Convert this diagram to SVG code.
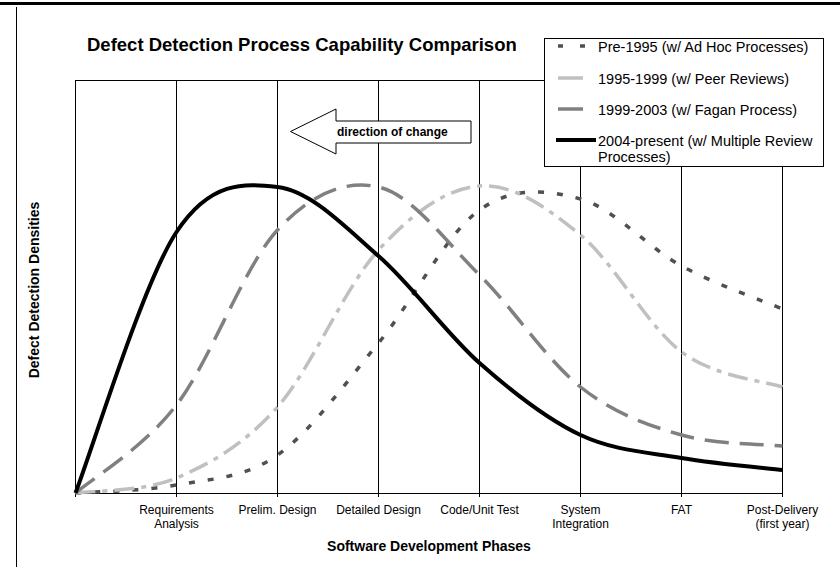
<svg xmlns="http://www.w3.org/2000/svg" width="840" height="567" viewBox="0 0 840 567">
<style>
.grid{stroke:#000;stroke-width:1;fill:none}
.lbl{font-family:"Liberation Sans",Arial,sans-serif;font-size:12px;fill:#000;text-anchor:middle}
.ttl{font-family:"Liberation Sans",Arial,sans-serif;font-weight:bold;fill:#000}
.leg{font-family:"Liberation Sans",Arial,sans-serif;font-size:14.5px;fill:#000}
.s-pre{fill:none;stroke:#505050;stroke-width:3.5;stroke-dasharray:6 13}
.s-peer{fill:none;stroke:#c0c0c0;stroke-width:3.5;stroke-dasharray:20 7 5 7}
.s-fagan{fill:none;stroke:#808080;stroke-width:3.5;stroke-dasharray:24 11}
.s-multi{fill:none;stroke:#000;stroke-width:4}
</style>
<rect x="0" y="0" width="840" height="567" fill="#fff"/>
<g id="frame">
<line x1="0" y1="3.5" x2="840" y2="3.5" stroke="#000" stroke-width="3"/>
<line x1="16.5" y1="7" x2="16.5" y2="567" stroke="#000" stroke-width="1"/>
</g>
<g id="title">
<text class="ttl" x="87" y="51" font-size="18.5">Defect Detection Process Capability Comparison</text>
</g>
<g id="grid">
<line class="grid" x1="75.5" y1="80" x2="75.5" y2="497"/>
<line class="grid" x1="176.5" y1="80" x2="176.5" y2="497"/>
<line class="grid" x1="277.5" y1="80" x2="277.5" y2="497"/>
<line class="grid" x1="378.5" y1="80" x2="378.5" y2="497"/>
<line class="grid" x1="479.5" y1="80" x2="479.5" y2="497"/>
<line class="grid" x1="580.5" y1="80" x2="580.5" y2="497"/>
<line class="grid" x1="681.5" y1="80" x2="681.5" y2="497"/>
<line class="grid" x1="782.5" y1="80" x2="782.5" y2="497"/>
<line class="grid" x1="75.5" y1="80.5" x2="782.5" y2="80.5"/>
<line class="grid" x1="75" y1="493.5" x2="783" y2="493.5"/>
</g>
<g id="curves">
<path id="pre1995" class="s-pre" d="M75.5,493 C92.3,491.7 142.8,491.3 176.5,485 C210.2,478.7 243.8,478.7 277.5,455 C311.2,431.3 344.8,383.8 378.5,343 C412.2,302.2 445.8,234 479.5,210 C513.2,186 546.8,189.7 580.5,199 C614.2,208.3 647.8,247.7 681.5,266 C715.2,284.3 765.7,301.8 782.5,309"/>
<path id="peer" class="s-peer" d="M75.5,493 C92.3,490.5 142.8,492.3 176.5,478 C210.2,463.7 243.8,445 277.5,407 C311.2,369 344.8,286.8 378.5,250 C412.2,213.2 445.8,188.5 479.5,186 C513.2,183.5 546.8,207.3 580.5,235 C614.2,262.7 647.8,326.7 681.5,352 C715.2,377.3 765.7,381.2 782.5,387"/>
<path id="fagan" class="s-fagan" d="M75.5,493 C92.3,478.3 142.8,448.8 176.5,405 C210.2,361.2 243.8,266.3 277.5,230 C311.2,193.7 344.8,179.5 378.5,187 C412.2,194.5 445.8,241.7 479.5,275 C513.2,308.3 546.8,360.3 580.5,387 C614.2,413.7 647.8,425.2 681.5,435 C715.2,444.8 765.7,444.2 782.5,446"/>
<path id="multi" class="s-multi" d="M75.5,493 C92.3,449.5 142.8,283 176.5,232 C210.2,181 243.8,183 277.5,187 C311.2,191 344.8,226.7 378.5,256 C412.2,285.3 445.8,333.2 479.5,363 C513.2,392.8 546.8,419.2 580.5,435 C614.2,450.8 647.8,452.2 681.5,458 C715.2,463.8 765.7,468 782.5,470"/>
</g>
<g id="arrow">
<polygon points="290.5,131.5 336,109 336,121 471,121 471,143 336,143 336,154" fill="#fff" stroke="#000" stroke-width="1"/>
<text class="ttl" x="337" y="136" font-size="12">direction of change</text>
</g>
<g id="legend">
<rect x="544.5" y="38.5" width="279" height="128" fill="#fff" stroke="#000" stroke-width="1"/>
<line x1="558" y1="46" x2="586" y2="46" class="s-pre" style="stroke-dasharray:5 17"/>
<line x1="558" y1="78" x2="583" y2="78" stroke="#c0c0c0" stroke-width="3.5"/>
<line x1="558" y1="109" x2="583" y2="109" stroke="#808080" stroke-width="3.5"/>
<line x1="556" y1="140" x2="596" y2="140" stroke="#000" stroke-width="4"/>
<text class="leg" x="598" y="52">Pre-1995 (w/ Ad Hoc Processes)</text>
<text class="leg" x="598" y="84">1995-1999 (w/ Peer Reviews)</text>
<text class="leg" x="598" y="115">1999-2003 (w/ Fagan Process)</text>
<text class="leg" x="598" y="146">2004-present (w/ Multiple Review</text>
<text class="leg" x="598" y="162">Processes)</text>
</g>
<g id="axis-labels">
<text class="lbl" x="176.5" y="514">Requirements</text>
<text class="lbl" x="176.5" y="528">Analysis</text>
<text class="lbl" x="277.5" y="514">Prelim. Design</text>
<text class="lbl" x="378.5" y="514">Detailed Design</text>
<text class="lbl" x="479.5" y="514">Code/Unit Test</text>
<text class="lbl" x="580.5" y="514">System</text>
<text class="lbl" x="580.5" y="528">Integration</text>
<text class="lbl" x="681.5" y="514">FAT</text>
<text class="lbl" x="782.5" y="514">Post-Delivery</text>
<text class="lbl" x="782.5" y="528">(first year)</text>
<text class="ttl" x="429" y="551" font-size="14" text-anchor="middle">Software Development Phases</text>
<text class="ttl" font-size="14" text-anchor="middle" transform="translate(39,290) rotate(-90)">Defect Detection Densities</text>
</g>
</svg>
